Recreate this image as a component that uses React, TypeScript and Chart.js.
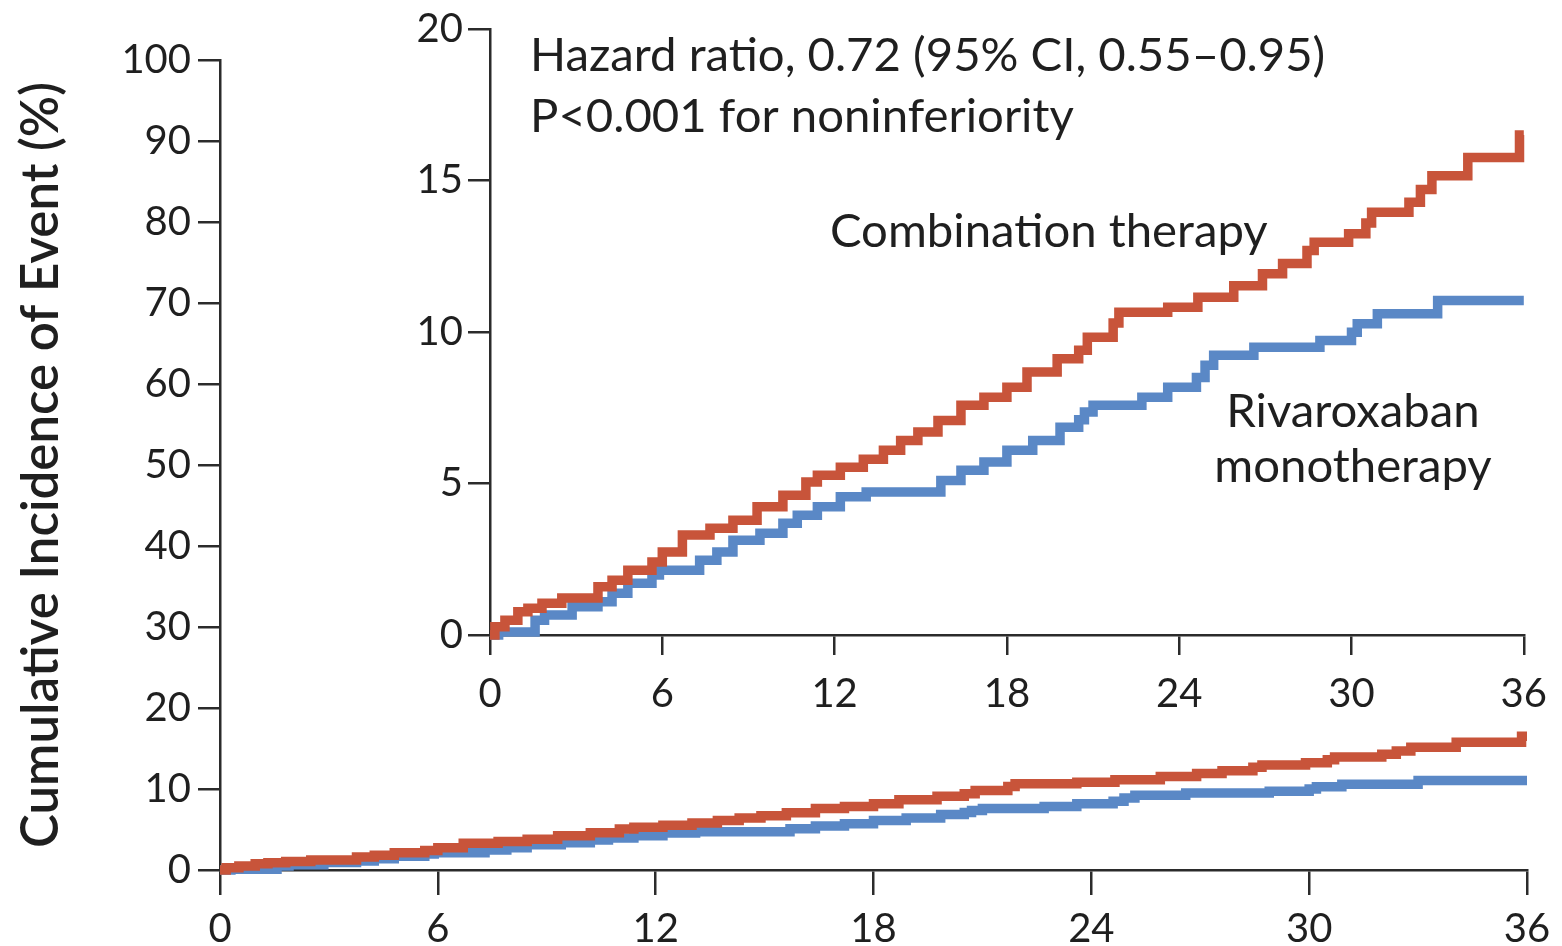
import React, { useEffect, useRef } from 'react';
import { Chart, registerables } from 'chart.js';

Chart.register(...registerables);

// ---- Data ----
const monthTicks = [0, 6, 12, 18, 24, 30, 36];
const mainYTicks = [0, 10, 20, 30, 40, 50, 60, 70, 80, 90, 100];
const insetYTicks = [0, 5, 10, 15, 20];

const combinationMonths = [0, 0.17, 0.52, 0.97, 1.32, 1.81, 2.5, 3.76, 4.25, 4.8, 5.64, 6.0, 6.7, 7.66, 8.46, 9.3, 10.2, 11.0, 11.4, 12.2, 13.0, 13.7, 14.3, 14.9, 15.6, 16.4, 17.2, 18.0, 18.7, 19.75, 20.5, 20.8, 21.7, 21.9, 23.6, 24.65, 25.9, 26.9, 27.6, 28.45, 28.7, 29.9, 30.5, 30.7, 32.0, 32.4, 32.8, 34.05, 35.85, 36];
const combinationIncidence = [0, 0.27, 0.49, 0.77, 0.88, 1.05, 1.22, 1.59, 1.81, 2.14, 2.41, 2.74, 3.3, 3.52, 3.79, 4.23, 4.61, 5.05, 5.27, 5.54, 5.8, 6.1, 6.42, 6.7, 7.08, 7.58, 7.85, 8.18, 8.68, 9.12, 9.4, 9.83, 10.3, 10.65, 10.82, 11.15, 11.53, 11.92, 12.26, 12.69, 12.96, 13.24, 13.6, 13.95, 14.28, 14.7, 15.16, 15.76, 16.5, 16.5];

const rivaroxabanMonths = [0, 0.3, 1.57, 1.9, 2.86, 3.76, 4.25, 4.8, 5.64, 5.9, 7.3, 7.9, 8.46, 9.4, 10.2, 10.7, 11.4, 12.2, 13.1, 15.7, 16.4, 17.2, 18.0, 18.9, 19.85, 20.5, 20.7, 21.0, 22.7, 23.6, 24.6, 24.9, 25.2, 26.6, 28.9, 30.0, 30.2, 30.9, 33.0, 36];
const rivaroxabanIncidence = [0, 0.1, 0.49, 0.66, 0.93, 1.1, 1.38, 1.71, 1.98, 2.14, 2.47, 2.74, 3.13, 3.36, 3.69, 3.95, 4.23, 4.56, 4.72, 5.1, 5.44, 5.71, 6.1, 6.42, 6.86, 7.1, 7.36, 7.58, 7.85, 8.18, 8.5, 8.9, 9.23, 9.5, 9.72, 9.99, 10.27, 10.6, 11.04, 11.04];

const yAxisTitle = 'Cumulative Incidence of Event (%)';
const hazardText = 'Hazard ratio, 0.72 (95% CI, 0.55\u20130.95)';
const pValueText = 'P<0.001 for noninferiority';
const combinationLabel = 'Combination therapy';
const rivaroxabanLabel = ['Rivaroxaban', 'monotherapy'];

// ---- Styles ----
const RED = '#C8543A';
const BLUE = '#5A88C6';
const AXIS = '#2b2b2b';
const TEXT = '#1f1f1f';
const FONT = 'Lato, "Open Sans", sans-serif';

const W = 1562;
const H = 946;
const INSET_LEFT = 380;
const INSET_W = W - INSET_LEFT;
const INSET_H = 720;

function toPoints(xs: number[], ys: number[]) {
  return xs.map((x, i) => ({ x, y: ys[i] }));
}

function datasets() {
  return [
    {
      label: 'Combination therapy',
      data: toPoints(combinationMonths, combinationIncidence),
      borderColor: RED,
      backgroundColor: RED,
      borderWidth: 9.5,
      stepped: true,
      pointRadius: 0,
      fill: false,
      clip: false as any,
      borderCapStyle: 'butt' as const,
      borderJoinStyle: 'miter' as const,
    },
    {
      label: 'Rivaroxaban monotherapy',
      data: toPoints(rivaroxabanMonths, rivaroxabanIncidence),
      borderColor: BLUE,
      backgroundColor: BLUE,
      borderWidth: 9.5,
      stepped: true,
      pointRadius: 0,
      fill: false,
      clip: false as any,
      borderCapStyle: 'butt' as const,
      borderJoinStyle: 'miter' as const,
    },
  ];
}

function axisCommon(ticksArr: number[], tickLength: number, padding: number) {
  return {
    type: 'linear' as const,
    afterBuildTicks: (s: any) => {
      s.ticks = ticksArr.map((value) => ({ value }));
    },
    grid: {
      drawOnChartArea: false,
      drawTicks: true,
      tickLength,
      color: AXIS,
      lineWidth: 2.5,
    },
    border: { color: AXIS, width: 2.5 },
    ticks: {
      font: { family: FONT, size: 40 },
      color: TEXT,
      padding,
      maxRotation: 0,
      autoSkip: false,
    },
  };
}

const insetTextPlugin = {
  id: 'insetText',
  afterDraw(chart: any) {
    const ctx = chart.ctx as CanvasRenderingContext2D;
    const ox = INSET_LEFT;
    ctx.save();
    ctx.fillStyle = TEXT;
    ctx.textBaseline = 'middle';
    ctx.font = `40px ${FONT}`;
    const m = ctx.measureText(hazardText).width;
    const size = Math.round((40 * 795) / m * 10) / 10;
    ctx.font = `${size}px ${FONT}`;
    ctx.textAlign = 'left';
    ctx.fillText(hazardText, 530 - ox, 56);
    ctx.fillText(pValueText, 530 - ox, 117);
    ctx.fillText(combinationLabel, 830 - ox, 232);
    ctx.textAlign = 'center';
    ctx.fillText(rivaroxabanLabel[0], 1353 - ox, 412);
    ctx.fillText(rivaroxabanLabel[1], 1353 - ox, 467);
    ctx.restore();
  },
};

export default function App() {
  const mainRef = useRef<HTMLCanvasElement>(null);
  const insetRef = useRef<HTMLCanvasElement>(null);

  useEffect(() => {
    const mainX: any = {
      ...axisCommon(monthTicks, 25, 10),
      min: 0,
      max: 36,
      afterFit: (s: any) => {
        s.height = H - 870;
      },
    };
    const mainY: any = {
      ...axisCommon(mainYTicks, 22, 7),
      min: 0,
      max: 100,
      afterFit: (s: any) => {
        s.width = 220;
      },
      title: {
        display: true,
        text: yAxisTitle,
        color: TEXT,
        font: { family: FONT, size: 51, weight: '600' },
        padding: { top: 11, bottom: 0 },
      },
    };
    const main = new Chart(mainRef.current as HTMLCanvasElement, {
      type: 'line',
      data: { datasets: datasets() as any },
      options: {
        animation: false,
        responsive: false,
        devicePixelRatio: 1,
        layout: { padding: { top: 60, right: 35, left: 0, bottom: 0 } },
        plugins: { legend: { display: false }, tooltip: { enabled: false } },
        scales: { x: mainX, y: mainY },
      } as any,
    });

    const insetX: any = {
      ...axisCommon(monthTicks, 20, 15),
      min: 0,
      max: 36,
      afterFit: (s: any) => {
        s.height = INSET_H - 635;
      },
    };
    const insetY: any = {
      ...axisCommon(insetYTicks, 22, 5),
      min: 0,
      max: 20,
      afterFit: (s: any) => {
        s.width = 490 - INSET_LEFT;
      },
    };
    const inset = new Chart(insetRef.current as HTMLCanvasElement, {
      type: 'line',
      data: { datasets: datasets() as any },
      options: {
        animation: false,
        responsive: false,
        devicePixelRatio: 1,
        layout: { padding: { top: 28, right: INSET_W - (1524 - INSET_LEFT), left: 0, bottom: 0 } },
        plugins: { legend: { display: false }, tooltip: { enabled: false } },
        scales: { x: insetX, y: insetY },
      } as any,
      plugins: [insetTextPlugin],
    });

    return () => {
      main.destroy();
      inset.destroy();
    };
  }, []);

  return (
    <div
      style={{
        position: 'fixed',
        left: 0,
        top: 0,
        width: W,
        height: H,
        background: '#fff',
        overflow: 'hidden',
      }}
    >
      <canvas
        ref={mainRef}
        width={W}
        height={H}
        style={{ position: 'absolute', left: 0, top: 0, width: W, height: H }}
      />
      <canvas
        ref={insetRef}
        width={INSET_W}
        height={INSET_H}
        style={{ position: 'absolute', left: INSET_LEFT, top: 0, width: INSET_W, height: INSET_H }}
      />
    </div>
  );
}
